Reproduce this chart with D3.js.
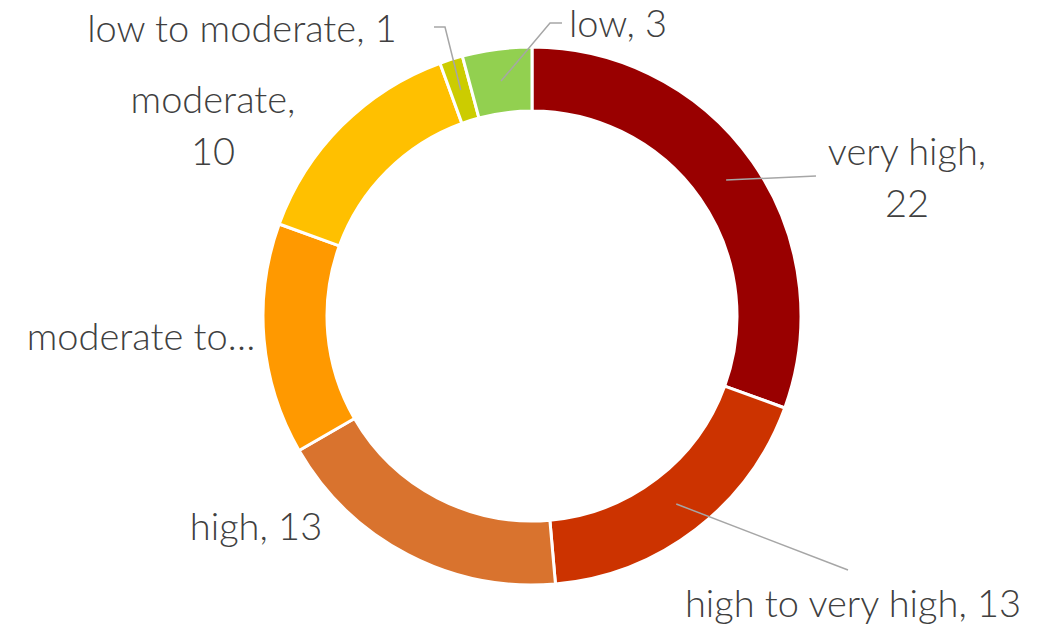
<!DOCTYPE html>
<html>
<head>
<meta charset="utf-8">
<script src="https://cdn.jsdelivr.net/npm/d3@7"></script>
<style>
    body { margin: 0; background: #fff; }
    svg { display: block; }
    .label { font-family: Lato, "Open Sans", sans-serif; font-weight: 300; fill: #404040; }
    .leader { fill: none; stroke: #a6a6a6; stroke-width: 1.5; }
</style>
</head>
<body>
<svg id="chart" width="1050" height="627"></svg>
<script>
const categories = ["very high", "high to very high", "high", "moderate to high",
                    "moderate", "low to moderate", "low"];
const values = [22, 13, 13, 10, 10, 1, 3];
const colors = ["#990000", "#cc3300", "#d9732e", "#ff9900",
                "#ffc000", "#cccc00", "#92d050"];

// label placement, relative to the donut centre (hand placed like the original)
const labelLayout = [
    {dx: 375, dy: -151, wrap: true, leader: [[284, -140]]},
    {dx: 321, dy: 301, leader: [[316, 254]]},
    {dx: -276, dy: 224},
    {dx: -391, dy: 34, truncate: true},
    {dx: -319, dy: -203, wrap: true},
    {dx: -290, dy: -274, leader: [[-87, -289], [-98, -289]]},
    {dx: 86, dy: -279, leader: [[18, -293], [30, -293]]},
];

const width = 1050, height = 627;
const cx = 532, cy = 316;
const outerR = 269, innerR = 205;
const fontSize = 38, lineHeight = 52;

const svg = d3.select("#chart");
const g = svg.append('g').attr('transform', `translate(${cx},${cy})`);

const data = categories.map((c, i) => ({name: c, value: values[i], color: colors[i], layout: labelLayout[i]}));

const pie = d3.pie().sort(null).value((d) => d.value);
const arc = d3.arc().innerRadius(innerR).outerRadius(outerR);
const arcs = pie(data);

g.append('g').attr('class', "slices")
    .selectAll('path')
    .data(arcs)
    .join('path')
    .attr('d', arc)
    .attr('fill', (d) => d.data.color)
    .attr('stroke', "#fff")
    .attr('stroke-width', 3)
    .attr('stroke-linejoin', "miter");

function labelLines(d) {
    let L = d.layout;
    if (L.truncate) { return [d.name.split(" ").slice(0, 2).join(" ") + "…"]; }
    if (L.wrap) { return [d.name + ",", String(d.value)]; }
    return [`${d.name}, ${d.value}`];
}

const leaders = g.append('g').attr('class', "leaders");
arcs.forEach((a) => {
    let L = a.data.layout;
    if (!L.leader) return;
    let pts = [arc.centroid(a)].concat(L.leader);
    leaders.append('path')
        .attr('class', "leader")
        .attr('d', d3.line()(pts));
});

const labels = g.append('g').attr('class', "labels");
arcs.forEach((a) => {
    let L = a.data.layout;
    let text = labels.append('text')
        .attr('class', "label")
        .attr('text-anchor', "middle")
        .attr('font-size', fontSize)
        .attr('x', L.dx)
        .attr('y', L.dy);
    labelLines(a.data).forEach((line, i) => {
        text.append('tspan')
            .attr('x', L.dx)
            .attr('dy', i == 0 ? 0 : lineHeight)
            .text(line);
    });
});
</script>
</body>
</html>
